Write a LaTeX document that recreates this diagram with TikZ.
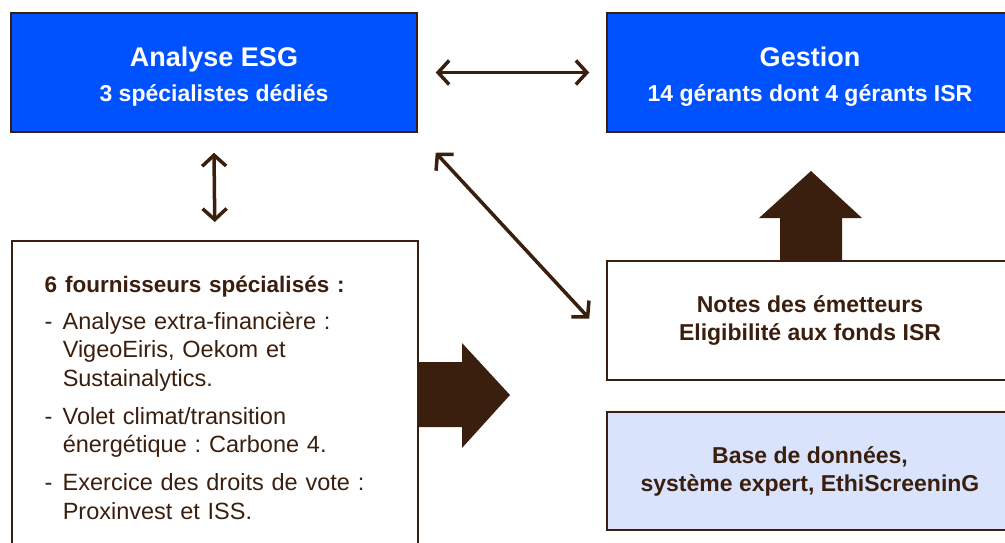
\documentclass[tikz,border=0pt]{standalone}
\usepackage{fontspec}
\setmainfont{Liberation Sans}
\usetikzlibrary{arrows.meta}
\definecolor{brun}{RGB}{59,31,14}
\definecolor{bleuvif}{RGB}{0,82,255}
\definecolor{bleupale}{RGB}{217,228,252}
\newcommand\puce[1]{\makebox[18pt][l]{-}#1}
\newcommand\suite[1]{\hspace*{18pt}#1}
\frenchspacing
\tikzset{
  cadre/.style={draw=brun, line width=1.5pt, minimum width=406pt, inner sep=0pt},
  bleu/.style={cadre, fill=bleuvif, text=white, align=center, minimum height=119pt,
    font=\bfseries\fontsize{23}{35}\selectfont},
  blanc/.style={cadre, fill=white, text=brun, align=center,
    font=\bfseries\fontsize{23}{28}\selectfont},
  fleche/.style={draw=brun, line width=3.5pt,
    {Straight Barb[length=11pt,width=24pt]}-{Straight Barb[length=11pt,width=24pt]}},
}
\begin{document}
\begin{tikzpicture}[x=1pt, y=-1pt]
  \useasboundingbox (0,0) rectangle (1005,542);
  \clip (0,0) rectangle (1005,542);
  % haut
  \node[bleu] (analyse) at (214,72.5) {\rule{0pt}{27pt}{\fontsize{27}{35}\selectfont Analyse ESG}\\3 spécialistes dédiés};
  \node[bleu] (gestion) at (810,72.5) {\rule{0pt}{27pt}{\fontsize{27}{35}\selectfont Gestion}\\14 gérants dont 4 gérants ISR};
  % droite
  \node[blanc, minimum height=119pt] (notes) at (810,320.5) {Notes des émetteurs\\Eligibilité aux fonds ISR};
  \node[blanc, minimum height=118pt, fill=bleupale] (base) at (810,471) {Base de données,\\système expert, EthiScreeninG};
  % gauche
  \node[cadre, anchor=north west, inner xsep=33pt, inner ysep=35pt, text width=340pt,
    align=left, text=brun, font=\fontsize{23.5}{28.5}\selectfont] (fourn) at (11,240)
    {{\bfseries\fontsize{22.5}{28.5}\selectfont 6 fournisseurs spécialisés :}\\[8.5pt]
     \puce{Analyse extra-financière :}\\
     \suite{VigeoEiris, Oekom et}\\
     \suite{Sustainalytics.}\\[9.5pt]
     \puce{Volet climat/transition}\\
     \suite{énergétique : Carbone 4.}\\[9.5pt]
     \puce{Exercice des droits de vote :}\\
     \suite{Proxinvest et ISS.}};
  % grosses fleches
  \fill[brun] (417,362) -- (462,362) -- (462,343) -- (510,395) -- (462,448) -- (462,427) -- (417,427) -- cycle;
  \fill[brun] (780,261) -- (780,218) -- (759,218) -- (811,171) -- (862,218) -- (842,218) -- (842,261) -- cycle;
  % fleches
  \draw[fleche] ([xshift=18pt]analyse.east) -- ([xshift=-17pt]gestion.west);
  \draw[fleche] ([yshift=-20pt]analyse.south) -- ([yshift=18pt]fourn.north);
  \draw[fleche] ([shift={(18,20)}]analyse.south east) -- ([shift={(-17,-2)}]notes.west);
\end{tikzpicture}
\end{document}
